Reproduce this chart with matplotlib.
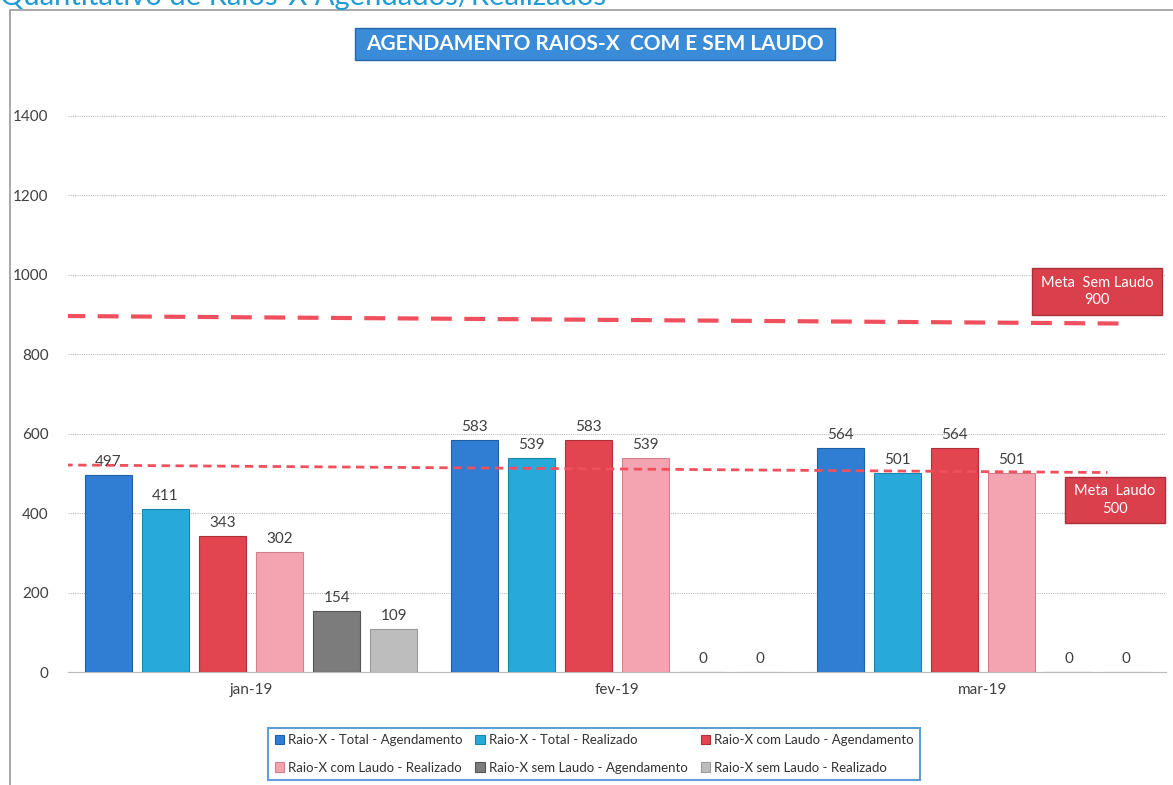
import matplotlib.pyplot as plt
import numpy as np
from matplotlib.patches import Rectangle

plt.rcParams["font.family"] = ["Lato", "DejaVu Sans"]

# data
months = ["jan-19", "fev-19", "mar-19"]
series_names = [
    "Raio-X - Total - Agendamento",
    "Raio-X - Total - Realizado",
    "Raio-X com Laudo - Agendamento",
    "Raio-X com Laudo - Realizado",
    "Raio-X sem Laudo - Agendamento",
    "Raio-X sem Laudo - Realizado",
]
total_agend = [497, 583, 564]
total_real = [411, 539, 501]
com_laudo_agend = [343, 583, 564]
com_laudo_real = [302, 539, 501]
sem_laudo_agend = [154, 0, 0]
sem_laudo_real = [109, 0, 0]
series_values = [total_agend, total_real, com_laudo_agend,
                 com_laudo_real, sem_laudo_agend, sem_laudo_real]
colors = ["#2F7ED3", "#27A9DA", "#E2454F", "#F4A3B1", "#7C7C7C", "#BDBDBD"]
edges = ["#1F5FA8", "#1A86B0", "#B02E38", "#D27F8E", "#555555", "#9A9A9A"]

# goal lines (scan is slightly tilted, so read at both ends)
meta_sem_laudo = 900
meta_laudo = 500
meta_sem_line = [896, 877]
meta_laudo_line = [521, 502]

fig = plt.figure(figsize=(11.73, 7.85), dpi=100)
ax = fig.add_axes([68 / 1173, 1 - 672 / 785, 1098 / 1173, 596 / 785])

x = np.arange(len(months))
step = 0.156
width = 0.127
handles = []
for i, vals in enumerate(series_values):
    pos = x + (i - 2.5) * step
    bars = ax.bar(pos, vals, width, color=colors[i], edgecolor=edges[i],
                  linewidth=0.8, label=series_names[i], zorder=3)
    handles.append(bars)
    for b, v in zip(bars, vals):
        ax.text(b.get_x() + b.get_width() / 2, v + 15, str(v), ha="center",
                va="bottom", fontsize=11, color="#404040", zorder=5)

ax.plot([-0.51, 2.38], meta_sem_line, color="#F0505E", lw=3, ls=(0, (5, 3)),
        zorder=4)
ax.plot([-0.51, 2.34], meta_laudo_line, color="#F0505E", lw=2, ls=(0, (3, 2)),
        zorder=4)

ax.set_xlim(-0.5, 2.5)
ax.set_ylim(0, 1500)
ax.set_yticks(range(0, 1401, 200))
ax.set_xticks(x)
ax.set_xticklabels(months)
ax.tick_params(axis="both", length=0, labelsize=11, colors="#404040", pad=8)
ax.tick_params(axis="y", pad=14)
ax.yaxis.grid(True, color="#BBBBBB", lw=0.8, ls=(0, (1, 1)))
ax.set_axisbelow(True)
for s in ["top", "right", "left"]:
    ax.spines[s].set_visible(False)
ax.spines["bottom"].set_color("#BBBBBB")

# goal labels
for (bx, by, bw, bh), txt in [((1032, 268, 130, 47), f"Meta  Sem Laudo\n{meta_sem_laudo}"),
                              ((1065, 477, 100, 46), f"Meta  Laudo\n{meta_laudo}")]:
    fig.patches.append(Rectangle((bx / 1173, 1 - (by + bh) / 785), bw / 1173, bh / 785,
                                 transform=fig.transFigure, facecolor="#D9404C",
                                 edgecolor="#A8303A", lw=1, zorder=6))
    fig.text((bx + bw / 2) / 1173, 1 - (by + bh / 2) / 785, txt, ha="center",
             va="center", color="white", fontsize=10.5, zorder=7, linespacing=1.3)

# title box
fig.patches.append(Rectangle((355 / 1173, 1 - 60 / 785), 480 / 1173, 32 / 785,
                             transform=fig.transFigure, facecolor="#3A8BD8",
                             edgecolor="#2467AE", lw=1, zorder=6))
fig.text(595 / 1173, 1 - 44 / 785, "AGENDAMENTO RAIOS-X  COM E SEM LAUDO",
         ha="center", va="center", color="white", fontsize=15,
         fontweight="bold", zorder=7)

# page heading, cut off by the scan at the top edge
fig.text(0.0, 1 - 5 / 785, "Quantitativo de Raios-X Agendados/Realizados",
         ha="left", va="baseline", color="#1E9BD7", fontsize=21)

# chart frame
fig.patches.append(Rectangle((10 / 1173, -0.01), 1.2, 1 - 10 / 785 + 0.01,
                             transform=fig.transFigure, fill=False,
                             edgecolor="#9A9A9A", lw=1.2, zorder=1))

# row-major legend order
order = [0, 3, 1, 4, 2, 5]
leg = fig.legend([handles[k] for k in order], [series_names[k] for k in order],
                 loc="center", bbox_to_anchor=(594 / 1173, 1 - 754 / 785),
                 ncol=3, fontsize=9.5, frameon=True, handlelength=0.7,
                 handleheight=0.7, handletextpad=0.3, columnspacing=1.0,
                 fancybox=False, borderpad=0.5, labelspacing=1.15)
leg.get_frame().set_edgecolor("#3A86D0")
leg.get_frame().set_linewidth(1.5)
for t in leg.get_texts():
    t.set_color("#333333")

fig.savefig("out.png", dpi=100)
